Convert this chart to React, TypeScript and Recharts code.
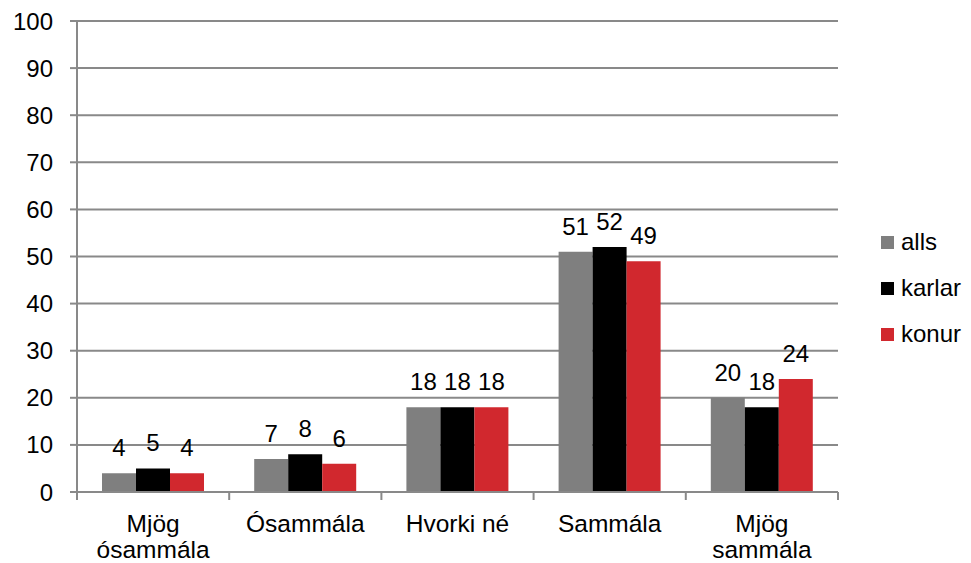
import React from "react";
import { BarChart, Bar, XAxis, YAxis, CartesianGrid, LabelList } from "recharts";

const categories = ["Mjög ósammála", "Ósammála", "Hvorki né", "Sammála", "Mjög sammála"];
const categoryLines = [["Mjög", "ósammála"], ["Ósammála"], ["Hvorki né"], ["Sammála"], ["Mjög", "sammála"]];
const alls = [4, 7, 18, 51, 20];
const karlar = [5, 8, 18, 52, 18];
const konur = [4, 6, 18, 49, 24];
const yTicks = [0, 10, 20, 30, 40, 50, 60, 70, 80, 90, 100];

const series = [
  { key: "alls", name: "alls", color: "#7f7f7f" },
  { key: "karlar", name: "karlar", color: "#000000" },
  { key: "konur", name: "konur", color: "#d1282e" },
];

const data = categories.map((c, i) => ({
  name: c,
  idx: i,
  alls: alls[i],
  karlar: karlar[i],
  konur: konur[i],
}));

const W = 971;
const H = 563;
const M = { top: 21, right: 133, bottom: 0, left: 0 };
const YW = 77;
const XH = 71;
const plotW = W - M.left - M.right - YW;
const band = plotW / categories.length;
const FONT = "'Liberation Sans', Arial, sans-serif";
const AXIS = "#898989";

const XTick = (props: any) => {
  const { x, y, payload, index } = props;
  const i0 = payload.index ?? index;
  const lines = categoryLines[i0] || [payload.value];
  const left = x - band / 2;
  const right = x + band / 2;
  const top = y - 8;
  return (
    <g>
      <line x1={left} y1={top} x2={left} y2={top + 8} stroke={AXIS} strokeWidth={2} />
      {i0 === categories.length - 1 && (
        <line x1={right} y1={top} x2={right} y2={top + 8} stroke={AXIS} strokeWidth={2} />
      )}
      {lines.map((l: string, i: number) => (
        <text
          key={i}
          x={x}
          y={y + 32 + i * 26}
          textAnchor="middle"
          fontFamily={FONT}
          fontSize={24.5}
          fill="#000"
        >
          {l}
        </text>
      ))}
    </g>
  );
};

const Legend = () => (
  <div
    style={{
      position: "absolute",
      left: 881,
      top: 219,
      fontFamily: FONT,
      fontSize: 24,
      color: "#000",
    }}
  >
    {series.map((s) => (
      <div key={s.key} style={{ display: "flex", alignItems: "center", height: 46 }}>
        <div style={{ width: 13, height: 13, background: s.color, marginRight: 7 }} />
        <span>{s.name}</span>
      </div>
    ))}
  </div>
);

export default function App() {
  return (
    <div style={{ position: "absolute", left: 0, top: 0, width: W, height: H, background: "#fff" }}>
      <BarChart
        width={W}
        height={H}
        data={data}
        margin={M}
        barCategoryGap={25}
        barGap={0}
      >
        <CartesianGrid vertical={false} stroke={AXIS} strokeWidth={2} />
        <XAxis
          dataKey="name"
          height={XH}
          interval={0}
          tickLine={false}
          axisLine={{ stroke: AXIS, strokeWidth: 2 }}
          tick={<XTick />}
        />
        <YAxis
          width={YW}
          domain={[0, 100]}
          ticks={yTicks}
          interval={0}
          tickSize={7}
          tickMargin={17}
          tickLine={{ stroke: AXIS, strokeWidth: 2 }}
          axisLine={{ stroke: AXIS, strokeWidth: 2 }}
          tick={{ fontFamily: FONT, fontSize: 24, fill: "#000" }}
        />
        {series.map((s) => (
          <Bar key={s.key} dataKey={s.key} name={s.name} fill={s.color} isAnimationActive={false}>
            <LabelList dataKey={s.key} position="top" offset={17} fontFamily={FONT} fontSize={24} fill="#000" />
          </Bar>
        ))}
      </BarChart>
      <Legend />
    </div>
  );
}
